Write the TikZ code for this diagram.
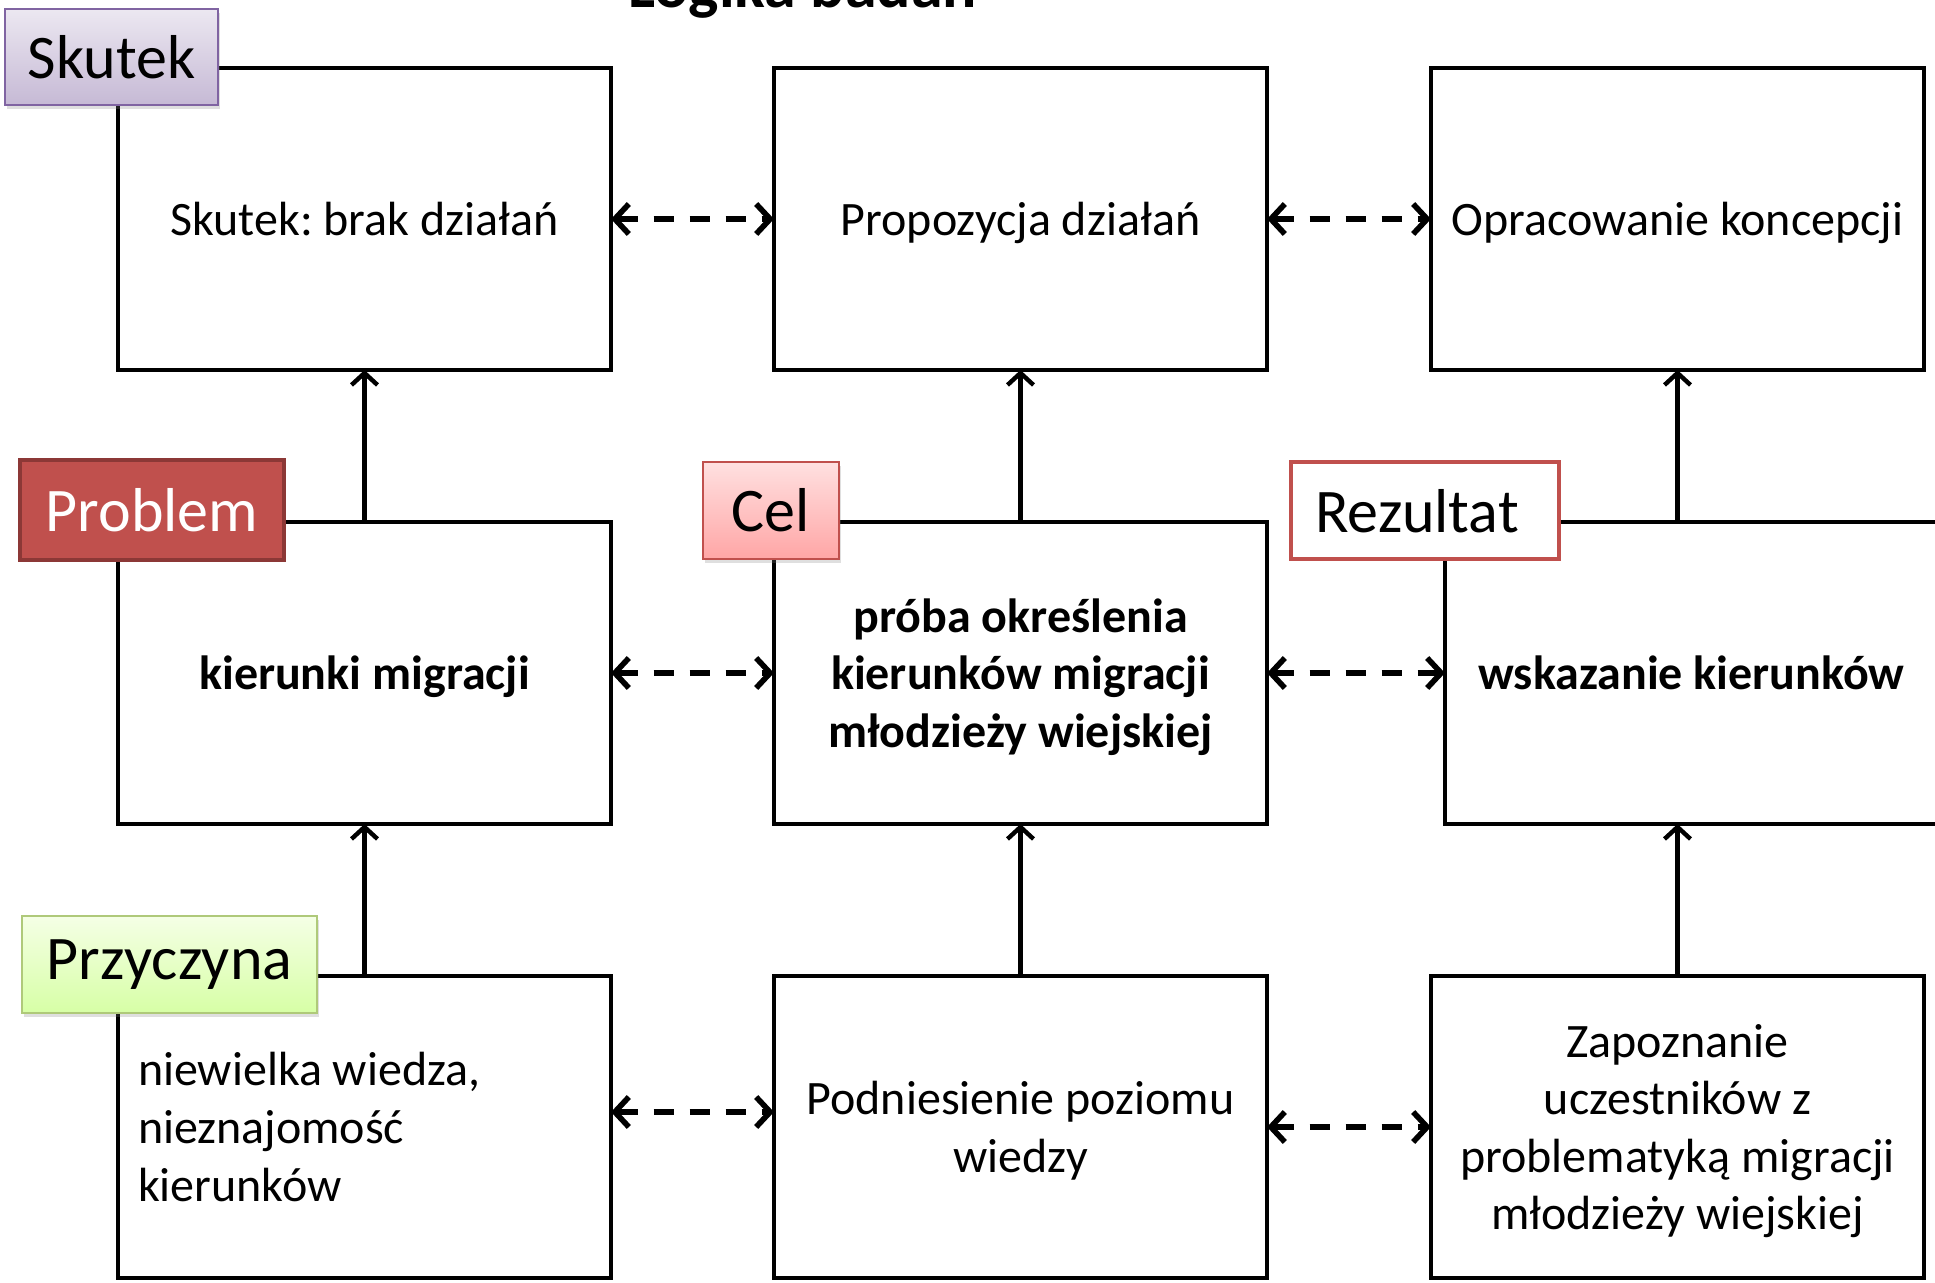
\documentclass[tikz,border=0pt]{standalone}
\usepackage{fontspec}
\setmainfont{Carlito}
\usetikzlibrary{positioning, arrows.meta, shadows}

\definecolor{fiolet}{HTML}{8064A2}
\definecolor{czerwony}{HTML}{C0504D}
\definecolor{ciemnyczerwony}{HTML}{8C3836}
\definecolor{zielony}{HTML}{9BBB59}

\tikzset{
  blok/.style={draw, line width=2.4pt, outer sep=0pt, minimum width=246.5pt, minimum height=151pt,
    inner sep=10pt, text depth=0pt, align=center, font=\fontsize{24pt}{28.8pt}\selectfont},
  etykieta/.style={inner sep=0pt, minimum height=48.5pt,
    font=\fontsize{31pt}{36pt}\selectfont},
  cien/.style={drop shadow={shadow xshift=1pt, shadow yshift=-2pt, opacity=0.25}},
  wgore/.style={line width=2.2pt, -{Straight Barb[length=6pt, width=13pt]}},
  wobie/.style={line width=2.8pt, dash pattern=on 10pt off 8pt,
    {Straight Barb[length=7pt, width=15pt]}-{Straight Barb[length=7pt, width=15pt]}}
}

\begin{document}
\frenchspacing
\begin{tikzpicture}[x=0.5pt, y=-0.5pt]
  \useasboundingbox (0,0) rectangle (1935,1283);

  \node[anchor=base, font=\fontsize{32pt}{36pt}\selectfont\bfseries] (tytul) at (802.5,8) {Logika badań};

  % gorny rzad
  \node[blok] (skutek) at (364.5,219) {Skutek: brak działań};
  \node[blok, right=81.5pt of skutek] (propozycja) {Propozycja działań};
  \node[blok, right=82pt of propozycja] (koncepcja) {Opracowanie koncepcji};

  % srodkowy rzad
  \node[blok, below=76pt of skutek, font=\fontsize{24pt}{28.8pt}\selectfont\bfseries] (problem) {kierunki migracji};
  \node[blok, below=76pt of propozycja, font=\fontsize{24pt}{28.8pt}\selectfont\bfseries] (cel)
    {próba określenia\\kierunków migracji\\młodzieży wiejskiej};
  \node[blok, right=89pt of cel, font=\fontsize{24pt}{28.8pt}\selectfont\bfseries] (rezultat) {wskazanie kierunków};

  % dolny rzad
  \node[blok, below=76pt of problem, align=flush left, text width=226.5pt, text depth={}] (przyczyna)
    {niewielka wiedza,\\nieznajomość\\kierunków};
  \node[blok, below=76pt of cel] (wiedza) {Podniesienie poziomu\\wiedzy};
  \coordinate (k3) at (koncepcja.south |- rezultat.south);
  \node[blok, below=76pt of k3] (zapoznanie)
    {Zapoznanie\\uczestników z\\problematyką migracji\\młodzieży wiejskiej};

  % strzalki
  \path (problem.north) edge[wgore] (skutek.south);
  \path (cel.north) edge[wgore] (propozycja.south);
  \path (rezultat.north -| koncepcja.south) edge[wgore] (koncepcja.south);
  \path (przyczyna.north) edge[wgore] (problem.south);
  \path (wiedza.north) edge[wgore] (cel.south);
  \path (zapoznanie.north) edge[wgore] (k3);

  \path (skutek.east) edge[wobie] (propozycja.west);
  \path (propozycja.east) edge[wobie] (koncepcja.west);
  \path (problem.east) edge[wobie] (cel.west);
  \path (cel.east) edge[wobie] (rezultat.west);
  \path ([yshift=7.5pt]przyczyna.east) edge[wobie] ([yshift=7.5pt]wiedza.west);
  \path (wiedza.east) edge[wobie] (zapoznanie.west);

  % etykiety
  \node[etykieta, cien, draw=fiolet, line width=1.2pt, top color=fiolet!15, bottom color=fiolet!45,
    minimum width=106.5pt, minimum height=48pt] (eskutek) at (111.5,57) {Skutek};
  \node[etykieta, fill=czerwony, draw=ciemnyczerwony, line width=2pt, text=white,
    minimum width=132pt, minimum height=50pt] (eproblem) at (152,510) {Problem};
  \node[etykieta, cien, draw=czerwony, line width=1pt, top color=red!12, bottom color=red!35,
    minimum width=68pt] (ecel) at (771,510.5) {Cel};
  \node[etykieta, fill=white, draw=czerwony, line width=2pt,
    minimum width=134pt, text depth=0pt] (erezultat) at (1425,510.5) {\hspace*{-8pt}Rezultat};
  \node[etykieta, cien, draw=zielony!80, line width=1pt, top color=green!40!yellow!10, bottom color=green!45!yellow!35,
    minimum width=147.5pt] (eprzyczyna) at (169.5,964.5) {Przyczyna};
\end{tikzpicture}
\end{document}
